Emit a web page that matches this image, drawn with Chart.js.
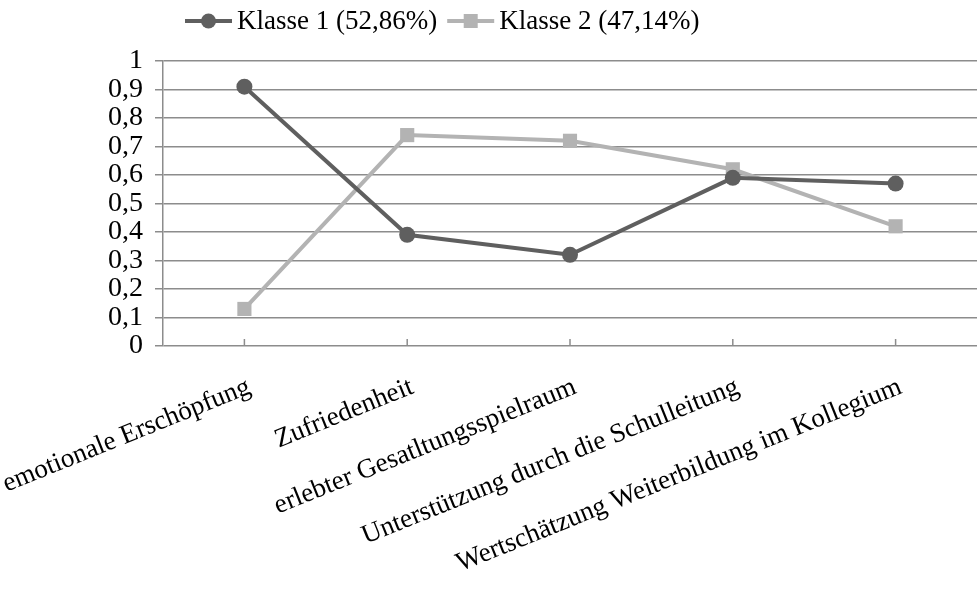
<!DOCTYPE html>
<html>
<head>
<meta charset="utf-8">
<script src="https://cdn.jsdelivr.net/npm/chart.js@4/dist/chart.umd.min.js"></script>
<style>
  html, body { margin: 0; padding: 0; background: #fff; overflow: hidden; }
  #wrap { width: 987px; height: 593px; position: relative; }
</style>
</head>
<body>
<div id="wrap"><canvas id="chart"></canvas></div>
<script>
const categories = [
  'emotionale Erschöpfung',
  'Zufriedenheit',
  'erlebter Gesatltungsspielraum',
  'Unterstützung durch die Schulleitung',
  'Wertschätzung Weiterbildung im Kollegium'
];
const seriesNames = ['Klasse 1 (52,86%)', 'Klasse 2 (47,14%)'];
const klasse1 = [0.91, 0.39, 0.32, 0.59, 0.57];
const klasse2 = [0.13, 0.74, 0.72, 0.62, 0.42];
const yTickLabels = ['0', '0,1', '0,2', '0,3', '0,4', '0,5', '0,6', '0,7', '0,8', '0,9', '1'];

const FONT = "'Liberation Serif', 'Times New Roman', serif";
const DARK = '#5f5f5f';
const LIGHT = '#b3b3b3';
const GRID = '#8c8c8c';

// legend with line + marker, like the office-style original
const lineLegend = {
  id: 'lineLegend',
  afterDraw(chart) {
    const ctx = chart.ctx;
    const y = 21;
    let x = 185;
    ctx.save();
    ctx.font = '27px ' + FONT;
    ctx.textBaseline = 'middle';
    chart.data.datasets.forEach(ds => {
      ctx.strokeStyle = ds.borderColor;
      ctx.lineWidth = 4;
      ctx.beginPath();
      ctx.moveTo(x, y);
      ctx.lineTo(x + 47, y);
      ctx.stroke();
      ctx.fillStyle = ds.backgroundColor;
      if (ds.pointStyle === 'rect') {
        ctx.fillRect(x + 23.5 - 7, y - 7, 14, 14);
      } else {
        ctx.beginPath();
        ctx.arc(x + 23.5, y, 7.5, 0, Math.PI * 2);
        ctx.fill();
      }
      ctx.fillStyle = '#000';
      ctx.fillText(ds.label, x + 52, y + 1);
      x += 52 + ctx.measureText(ds.label).width + 10;
    });
    ctx.restore();
  }
};

// small tick marks pointing up into the plot at each category
const innerTicks = {
  id: 'innerTicks',
  beforeDatasetsDraw(chart) {
    const ctx = chart.ctx;
    const xs = chart.scales.x;
    const bottom = chart.chartArea.bottom;
    ctx.save();
    ctx.strokeStyle = GRID;
    ctx.lineWidth = 1.5;
    categories.forEach((c, i) => {
      const px = xs.getPixelForValue(i);
      ctx.beginPath();
      ctx.moveTo(px, bottom);
      ctx.lineTo(px, bottom - 7);
      ctx.stroke();
    });
    ctx.restore();
  }
};

new Chart(document.getElementById('chart'), {
  type: 'line',
  data: {
    labels: categories,
    datasets: [
      {
        label: seriesNames[0],
        data: klasse1,
        borderColor: DARK,
        backgroundColor: DARK,
        borderWidth: 4,
        pointStyle: 'circle',
        pointRadius: 8,
        pointBorderWidth: 0,
        tension: 0
      },
      {
        label: seriesNames[1],
        data: klasse2,
        borderColor: LIGHT,
        backgroundColor: LIGHT,
        borderWidth: 4,
        pointStyle: 'rect',
        pointRadius: 10,
        pointBorderWidth: 0,
        tension: 0
      }
    ]
  },
  options: {
    responsive: true,
    maintainAspectRatio: false,
    animation: false,
    layout: { padding: { top: 61, left: 0, right: 0, bottom: 0 } },
    plugins: {
      legend: { display: false },
      tooltip: { enabled: false }
    },
    scales: {
      x: {
        offset: true,
        grid: { display: false, drawTicks: false },
        border: { display: false },
        ticks: {
          color: '#000',
          font: { family: FONT, size: 27 },
          minRotation: 22,
          maxRotation: 22,
          padding: 25,
          labelOffset: 5,
          autoSkip: false
        },
        afterFit(s) { s.height = 247; s.paddingLeft = 0; s.paddingRight = 0; }
      },
      y: {
        min: 0,
        max: 1,
        ticks: {
          stepSize: 0.1,
          autoSkip: false,
          color: '#000',
          font: { family: FONT, size: 28 },
          padding: 12,
          callback: v => yTickLabels[Math.round(v * 10)]
        },
        grid: { color: GRID, lineWidth: 1.5, tickLength: 8 },
        border: { color: GRID, width: 1.5 },
        afterFit(s) { s.width = 163; }
      }
    }
  },
  plugins: [lineLegend, innerTicks]
});
</script>
</body>
</html>
